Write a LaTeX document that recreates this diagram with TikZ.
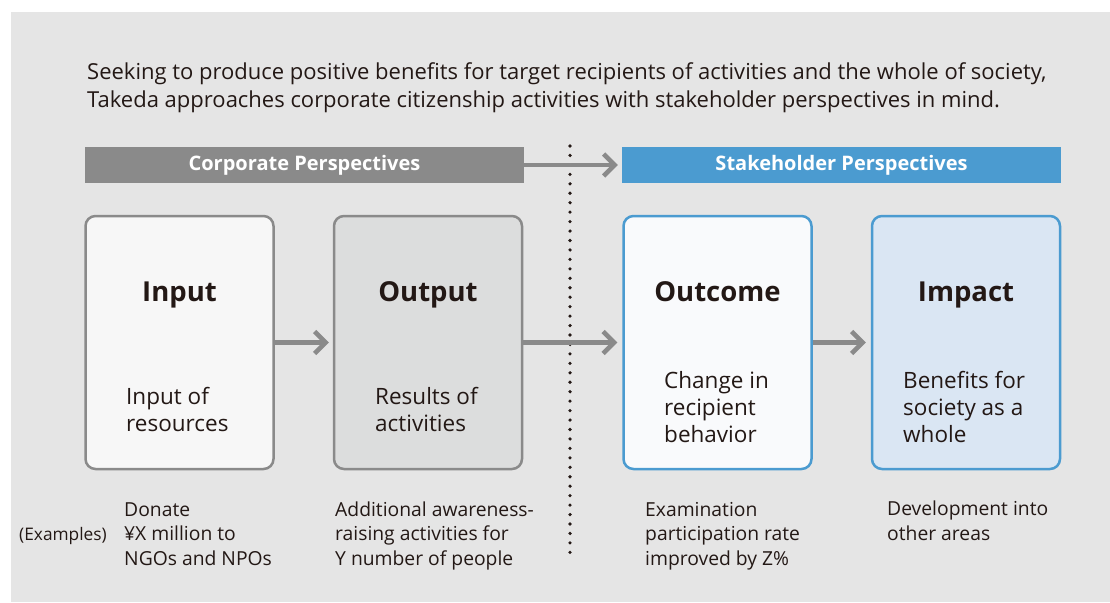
\documentclass[tikz,border=0pt]{standalone}
\usepackage{fontspec}
\setmainfont{Open Sans}
\usetikzlibrary{arrows.meta}
\definecolor{bg}{HTML}{E5E5E5}
\definecolor{ink}{HTML}{231815}
\definecolor{cgray}{HTML}{8A8A8A}
\definecolor{sblue}{HTML}{4B9BD0}
\definecolor{finput}{HTML}{F7F7F7}
\definecolor{foutput}{HTML}{DCDDDD}
\definecolor{foutcome}{HTML}{F9FAFC}
\definecolor{fimpact}{HTML}{DAE6F3}
\begin{document}
\begin{tikzpicture}[x=1pt,y=-1pt,
  bar/.style={minimum width=439pt,minimum height=36pt,inner sep=0pt,text=white,font=\fontsize{20}{24}\selectfont\bfseries},
  card/.style={rounded corners=10pt,line width=2.5pt,minimum width=188pt,minimum height=253pt,inner sep=0pt},
  title/.style={anchor=base,inner sep=0pt,text=ink,font=\fontsize{27.5}{30}\selectfont\bfseries},
  sub/.style={anchor=base west,align=left,inner sep=0pt,text=ink,font=\fontsize{22.5}{27}\selectfont},
  ex/.style={anchor=base west,align=left,inner sep=0pt,text=ink,font=\fontsize{19.3}{24.5}\selectfont},
  flow/.style={draw=cgray,line width=4.5pt,-{Straight Barb[length=11pt,width=22pt]}}
]
\useasboundingbox (0,0) rectangle (1110,602);
\fill[white] (0,0) rectangle (1110,602);
\fill[bg] (11,12) rectangle (1110,602);

% multi-line nodes: base anchor sits on the last line
\node[anchor=base west,align=left,inner sep=0pt,text=ink,font=\fontsize{22}{28}\selectfont] (intro) at (87,107)
 {Seeking to produce positive benefits for target recipients of activities and the whole of society,\\Takeda approaches corporate citizenship activities with stakeholder perspectives in mind.};

\node[bar,fill=cgray] (corp) at (304.5,165) {Corporate Perspectives};
\node[bar,fill=sblue] (stake) at (841.5,165) {Stakeholder Perspectives};

\coordinate (dtop) at (570,146);
\coordinate (dbot) at (570,560);
\draw[ink,line width=3.6pt,line cap=round,dash pattern=on 0pt off 9.45pt] (dtop) -- (dbot);

\node[card,draw=cgray,fill=finput] (input) at (179.5,342.5) {};
\node[card,draw=cgray,fill=foutput] (output) at (428,342.5) {};
\node[card,draw=sblue,fill=foutcome] (outcome) at (717.5,342.5) {};
\node[card,draw=sblue,fill=fimpact] (impact) at (966,342.5) {};

\draw[flow] (corp.east) -- ([xshift=-4pt]stake.west);
\draw[flow] (input.east) -- ([xshift=-4pt]output.west);
\draw[flow] (output.east) -- ([xshift=-5pt]outcome.west);
\draw[flow] (outcome.east) -- ([xshift=-5pt]impact.west);

\node[title] (tin) at (179.5,301) {Input};
\node[title] (tout) at (428,301) {Output};
\node[title] (toc) at (717.5,301) {Outcome};
\node[title] (tim) at (966,301) {Impact};

\node[sub] (sin) at (126,431) {Input of\\resources};
\node[sub] (sout) at (375,431) {Results of\\activities};
\node[sub] (soc) at (664,442) {Change in\\recipient\\behavior};
\node[sub] (sim) at (903,442) {Benefits for\\society as a\\whole};

\node[ex,font=\fontsize{17.3}{24.5}\selectfont] (exlabel) at (19,540) {(Examples)};
\node[ex] (ein) at (124,565) {Donate\\¥X million to\\NGOs and NPOs};
\node[ex] (eout) at (335,565) {Additional awareness-\\raising activities for\\Y number of people};
\node[ex] (eoc) at (645,565) {Examination\\participation rate\\improved by Z\%};
\node[ex] (eim) at (887,540) {Development into\\other areas};
\end{tikzpicture}
\end{document}
